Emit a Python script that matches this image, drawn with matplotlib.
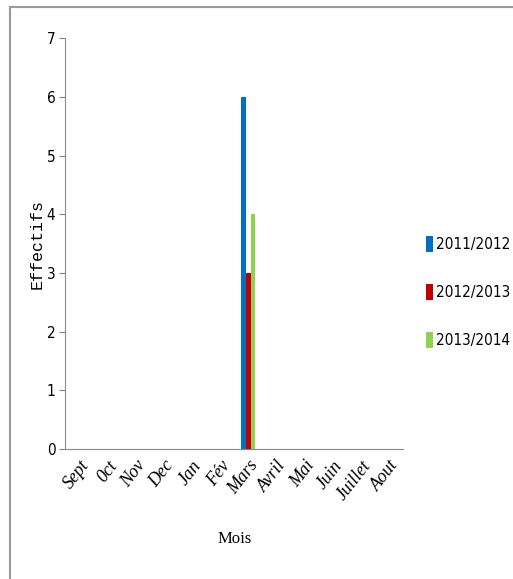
import numpy as np
import matplotlib.pyplot as plt
from matplotlib.lines import Line2D

# data
mois = ['Sept', '0ct', 'Nov', 'Dec', 'Jan', 'Fév', 'Mars', 'Avril', 'Mai', 'Juin', 'Juillet', 'Aout']
saisons = ['2011/2012', '2012/2013', '2013/2014']
effectifs_2011 = [0, 0, 0, 0, 0, 0, 6, 0, 0, 0, 0, 0]
effectifs_2012 = [0, 0, 0, 0, 0, 0, 3, 0, 0, 0, 0, 0]
effectifs_2013 = [0, 0, 0, 0, 0, 0, 4, 0, 0, 0, 0, 0]
couleurs = ['#0070C0', '#C00000', '#92D050']

narrow = dict(family='DejaVu Sans', stretch='condensed')

fig = plt.figure(figsize=(5.13, 5.79), dpi=100)
ax = fig.add_axes([0.127, 0.2245, 0.659, 0.7095])

x = np.arange(len(mois))
w = 0.17
for i, (vals, lab) in enumerate(zip([effectifs_2011, effectifs_2012, effectifs_2013], saisons)):
    ax.bar(x + (i - 1) * w, vals, width=w, color=couleurs[i], label=lab)

ax.set_xlim(-0.5, len(mois) - 0.5)
ax.set_ylim(0, 7)
ax.set_yticks(range(8))
ax.set_yticklabels([str(v) for v in range(8)], fontsize=11, **narrow)
ax.set_xticks(x)
ax.set_xticklabels(mois, rotation=52, ha='right', rotation_mode='anchor',
                   family='Liberation Serif', style='italic', fontsize=13)
ax.tick_params(axis='x', length=0, pad=6)
ax.tick_params(axis='y', length=4, color='#888888', pad=3)

for s in ['top', 'right']:
    ax.spines[s].set_visible(False)
ax.spines['left'].set_color('#888888')
ax.spines['bottom'].set_color('#888888')

ax.set_ylabel('Effectifs', family='Liberation Mono', fontsize=12)
ax.yaxis.set_label_coords(-0.062, 0.5)
ax.set_xlabel('Mois', family='Liberation Serif', fontsize=12, labelpad=20)

leg = fig.legend(loc='center left', bbox_to_anchor=(0.83, 0.495), frameon=False,
                 handlelength=0.45, handleheight=1.2, handletextpad=0.2, labelspacing=2.1,
                 borderaxespad=0, borderpad=0,
                 prop=dict(size=11, **narrow))

# cadre autour de la figure (gauche et haut)
fig.add_artist(Line2D([0.0195, 0.0195], [0, 0.988], color='#999999', lw=1.5, transform=fig.transFigure))
fig.add_artist(Line2D([0.0195, 1.0], [0.988, 0.988], color='#999999', lw=1.5, transform=fig.transFigure))

fig.savefig('out.png', dpi=100)
